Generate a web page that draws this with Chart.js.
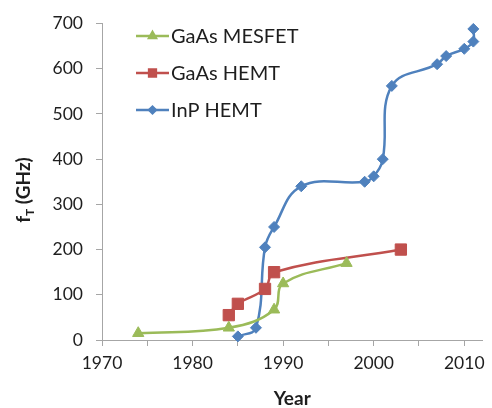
<!DOCTYPE html>
<html>
<head>
<meta charset="utf-8">
<script src="https://cdn.jsdelivr.net/npm/chart.js@4"></script>
<style>
  html, body { margin: 0; padding: 0; background: #fff; }
  #wrap { width: 492px; height: 408px; }
</style>
</head>
<body>
<div id="wrap"><canvas id="chart" width="492" height="408"></canvas></div>
<script>
// values
const mesfetYears = [1974, 1984, 1989, 1990, 1997];
const mesfetFt    = [15, 27, 67, 125, 170];

const hemtYears = [1984, 1985, 1988, 1989, 2003];
const hemtFt    = [55, 80, 113, 150, 200];

const inpYears = [1985, 1987, 1988, 1989, 1992, 1999, 2000, 2001, 2002, 2007, 2008, 2010, 2011, 2011];
const inpFt    = [8, 27, 205, 250, 340, 350, 362, 400, 562, 610, 628, 644, 660, 688];

const seriesNames = ['GaAs MESFET', 'GaAs HEMT', 'InP HEMT'];
const yearTicks = [1970, 1980, 1990, 2000, 2010];

const FONT = 'Lato, "Open Sans", sans-serif';
const TEXT = '#1e1e1e';

const pts = (xs, ys) => xs.map((x, i) => ({ x: x, y: ys[i] }));

const series = (label, data, color, style, r) => ({
  label: label,
  data: data,
  borderColor: color,
  backgroundColor: color,
  borderWidth: 2.5,
  tension: 0.4,
  pointStyle: style,
  pointRadius: r,
  pointHoverRadius: r,
  pointBackgroundColor: color,
  pointBorderColor: color,
  pointBorderWidth: 1,
  legendRadius: r * 0.6
});

// legend sits inside the plot, top left
const insideLegend = {
  id: 'insideLegend',
  afterDatasetsDraw(chart) {
    const ctx = chart.ctx;
    ctx.save();
    chart.data.datasets.forEach((ds, i) => {
      const y = 36 + i * 37;
      ctx.strokeStyle = ds.borderColor;
      ctx.lineWidth = 2.5;
      ctx.beginPath();
      ctx.moveTo(136, y);
      ctx.lineTo(169, y);
      ctx.stroke();
      ctx.fillStyle = ds.borderColor;
      Chart.helpers.drawPoint(ctx, {
        pointStyle: ds.pointStyle, rotation: 0, borderWidth: 1, radius: ds.legendRadius
      }, 152.5, y);
      ctx.fillStyle = TEXT;
      ctx.font = '20px ' + FONT;
      ctx.textAlign = 'left';
      ctx.textBaseline = 'middle';
      ctx.fillText(ds.label, 171, y + 1);
    });
    ctx.restore();
  }
};

// y title with a subscript T
const yTitle = {
  id: 'yTitle',
  afterDraw(chart) {
    const ctx = chart.ctx;
    ctx.save();
    ctx.translate(23, 190);
    ctx.rotate(-Math.PI / 2);
    ctx.fillStyle = TEXT;
    ctx.textBaseline = 'alphabetic';
    ctx.textAlign = 'left';
    const big = 'bold 19px ' + FONT, small = 'bold 12px ' + FONT;
    ctx.font = big;  const wf = ctx.measureText('f').width;
    const wr = ctx.measureText(' (GHz)').width;
    ctx.font = small; const wt = ctx.measureText('T').width;
    let x = -(wf + wt + wr) / 2;
    const base = 7;
    ctx.font = big;   ctx.fillText('f', x, base); x += wf;
    ctx.font = small; ctx.fillText('T', x, base + 4); x += wt;
    ctx.font = big;   ctx.fillText(' (GHz)', x, base);
    ctx.restore();
  }
};

new Chart(document.getElementById('chart'), {
  type: 'line',
  data: {
    datasets: [
      series(seriesNames[0], pts(mesfetYears, mesfetFt), '#9BBB59', 'triangle', 6.5),
      series(seriesNames[1], pts(hemtYears, hemtFt), '#C0504D', 'rect', 8),
      series(seriesNames[2], pts(inpYears, inpFt), '#4F81BD', 'rectRot', 5.5)
    ]
  },
  options: {
    responsive: false,
    animation: false,
    layout: { padding: { top: 18, right: 4, bottom: 0, left: 0 } },
    plugins: { legend: { display: false }, tooltip: { enabled: false } },
    scales: {
      x: {
        type: 'linear',
        min: 1970, max: 2012,
        afterFit: s => { s.height = 68; },
        border: { display: true, color: '#a6a6a6', width: 1 },
        grid: { drawOnChartArea: false, drawTicks: true, tickLength: 6, color: '#a6a6a6' },
        ticks: {
          stepSize: 5, includeBounds: false, autoSkip: false, maxRotation: 0,
          padding: 7, color: TEXT, font: { family: FONT, size: 17.5 },
          callback: v => yearTicks.includes(v) ? String(v) : ''
        },
        title: {
          display: true, text: 'Year', color: TEXT,
          font: { family: FONT, size: 19, weight: 'bold', lineHeight: 1 },
          padding: { top: 0, bottom: 0 }
        }
      },
      y: {
        min: 0, max: 700,
        afterFit: s => { s.width = 102; },
        border: { display: true, color: '#a6a6a6', width: 1 },
        grid: { drawOnChartArea: false, drawTicks: true, tickLength: 6, color: '#a6a6a6' },
        ticks: { stepSize: 100, padding: 13, color: TEXT, font: { family: FONT, size: 17.5 } }
      }
    },
    datasets: { line: { clip: false } }
  },
  plugins: [insideLegend, yTitle]
});
</script>
</body>
</html>
